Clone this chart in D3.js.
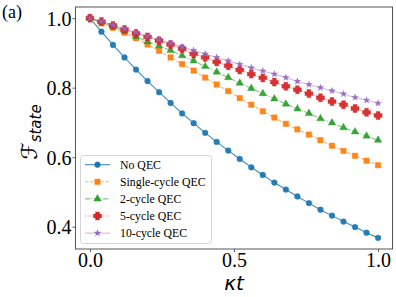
<!DOCTYPE html>
<html><head><meta charset="utf-8">
<script src="https://cdn.jsdelivr.net/npm/d3@7"></script>
<style>body{margin:0;background:#fff}svg{display:block}</style>
</head><body>
<svg id="c" width="396" height="297"></svg>
<script>
const kt = [0,0.04,0.08,0.12,0.16,0.20,0.24,0.28,0.32,0.36,0.40,0.44,0.48,0.52,0.56,0.60,0.64,0.68,0.72,0.76,0.80,0.84,0.88,0.92,0.96,1.00];
const noQEC = [1.000,0.961,0.923,0.887,0.852,0.819,0.787,0.756,0.726,0.698,0.670,0.644,0.619,0.595,0.571,0.549,0.527,0.507,0.487,0.468,0.449,0.432,0.415,0.399,0.383,0.368];
const single = [1.000,0.985,0.972,0.958,0.942,0.924,0.906,0.887,0.868,0.849,0.829,0.809,0.790,0.770,0.751,0.732,0.714,0.696,0.680,0.665,0.649,0.633,0.618,0.604,0.590,0.577];
const cycle2 = [1.000,0.989,0.976,0.963,0.947,0.932,0.920,0.907,0.892,0.877,0.861,0.845,0.829,0.813,0.798,0.783,0.768,0.753,0.739,0.726,0.711,0.699,0.685,0.673,0.661,0.649];
const cycle5 = [1.000,0.990,0.979,0.967,0.956,0.946,0.935,0.924,0.912,0.897,0.887,0.874,0.863,0.851,0.839,0.828,0.816,0.804,0.794,0.783,0.771,0.760,0.751,0.740,0.729,0.720];
const cycle10 = [1.000,0.990,0.980,0.969,0.959,0.948,0.938,0.928,0.917,0.907,0.897,0.887,0.877,0.867,0.857,0.848,0.839,0.829,0.818,0.809,0.800,0.791,0.782,0.772,0.764,0.755];
const seriesNames = ["No QEC","Single-cycle QEC","2-cycle QEC","5-cycle QEC","10-cycle QEC"];
const xTicks = [0.0,0.5,1.0];
const yTicks = [0.4,0.6,0.8,1.0];

const series = [
  {name:seriesNames[0], vals:noQEC, color:"#1f77b4", dash:null, sym:d3.symbolCircle, size:26, op:0.85},
  {name:seriesNames[1], vals:single, color:"#ff7f0e", dash:"3.5,1.6", sym:d3.symbolSquare, size:30, op:0.6},
  {name:seriesNames[2], vals:cycle2, color:"#2ca02c", dash:"5,1.5,1,1.5", sym:d3.symbolTriangle, size:24, op:0.6},
  {name:seriesNames[3], vals:cycle5, color:"#d62728", dash:"1,1.6", sym:"plus", size:8, op:0.6},
  {name:seriesNames[4], vals:cycle10, color:"#9467bd", dash:null, sym:d3.symbolStar, size:13, op:0.45}
];

const svg = d3.select("#c");
const L=75.5, R=392.5, T=7, B=249;
const x = d3.scaleLinear().domain([-0.05,1.05]).range([L,R]);
const y = d3.scaleLinear().domain([0.336,1.032]).range([B,T]);

function plusPath(s){ // filled thick plus
  const a=s/2, b=s/4.2;
  return `M${-b},${-a}H${b}V${-b}H${a}V${b}H${b}V${a}H${-b}V${b}H${-a}V${-b}H${-b}Z`;
}
function markerPath(sr){
  if(sr.sym==="plus") return plusPath(sr.size);
  return d3.symbol().type(sr.sym).size(sr.size)();
}

const serif = "Liberation Serif";
const sans = "DejaVu Sans";

// axes
const xa = d3.axisBottom(x).tickValues(xTicks).tickFormat(d3.format(".1f")).tickSize(3).tickPadding(4);
const ya = d3.axisLeft(y).tickValues(yTicks).tickFormat(d3.format(".1f")).tickSize(3).tickPadding(1);
const gx = svg.append("g").attr("transform",`translate(0,${B})`).call(xa);
const gy = svg.append("g").attr("transform",`translate(${L},0)`).call(ya);
[gx,gy].forEach(g=>{
  g.attr("font-family",null).attr("font-size",null);
  g.select(".domain").remove();
  g.selectAll("line").attr("stroke","#333").attr("stroke-width",0.8);
  g.selectAll("text").style("font-family",serif).style("font-size","20px").attr("fill","#000");
});
gx.selectAll("text").attr("dy",null).attr("y",18).attr("dominant-baseline","auto");
gy.selectAll("text").attr("dy","0.35em");

// lines and markers
const line = d3.line().x((d,i)=>x(kt[i])).y(d=>y(d));
series.forEach(sr=>{
  svg.append("path").attr("d",line(sr.vals)).attr("fill","none")
    .attr("stroke",sr.color).attr("stroke-width",1.1).attr("stroke-opacity",sr.op)
    .attr("stroke-dasharray",sr.dash);
  svg.append("g").selectAll("path").data(sr.vals).join("path")
    .attr("d",markerPath(sr))
    .attr("transform",(d,i)=>`translate(${x(kt[i])},${y(d)})`)
    .attr("fill",sr.color).attr("fill-opacity",0.95)
    .attr("stroke",sr.color).attr("stroke-opacity",0.4).attr("stroke-width",1);
});

// frame
svg.append("rect").attr("x",L).attr("y",T).attr("width",R-L).attr("height",B-T)
  .attr("fill","none").attr("stroke","#555").attr("stroke-width",1);

// legend
const lg = svg.append("g");
lg.append("rect").attr("x",80.5).attr("y",155.5).attr("width",131).attr("height",88).attr("rx",3)
  .attr("fill","#fff").attr("fill-opacity",0.8).attr("stroke","#d5d5d5").attr("stroke-width",1);
series.forEach((sr,i)=>{
  const cy = 164.7 + i*17.1;
  lg.append("line").attr("x1",85).attr("x2",110).attr("y1",cy).attr("y2",cy)
    .attr("stroke",sr.color).attr("stroke-width",1.1).attr("stroke-opacity",sr.op).attr("stroke-dasharray",sr.dash);
  lg.append("path").attr("d",markerPath(sr)).attr("transform",`translate(97.5,${cy})`)
    .attr("fill",sr.color).attr("stroke",sr.color).attr("stroke-opacity",0.4);
  lg.append("text").attr("x",120).attr("y",cy).attr("dy","0.35em")
    .style("font-family",serif).style("font-size","11.8px").attr("fill","#000").text(sr.name);
});

// axis labels
svg.append("text").attr("x",x(0.5)).attr("y",290).attr("text-anchor","middle")
  .style("font-family",sans).style("font-style","italic").style("font-size","20px").text("κt");
const yl = svg.append("text").attr("transform",`translate(37,132) rotate(-90)`).attr("text-anchor","middle")
  .style("font-family",sans);
yl.append("tspan").style("font-size","22px").style("font-style","italic").text("ℱ");
yl.append("tspan").style("font-size","15px").style("font-style","italic").attr("dy",4).text("state");

svg.append("text").attr("x",2).attr("y",18).style("font-family",serif).style("font-size","18px").text("(a)");
</script>
</body></html>
